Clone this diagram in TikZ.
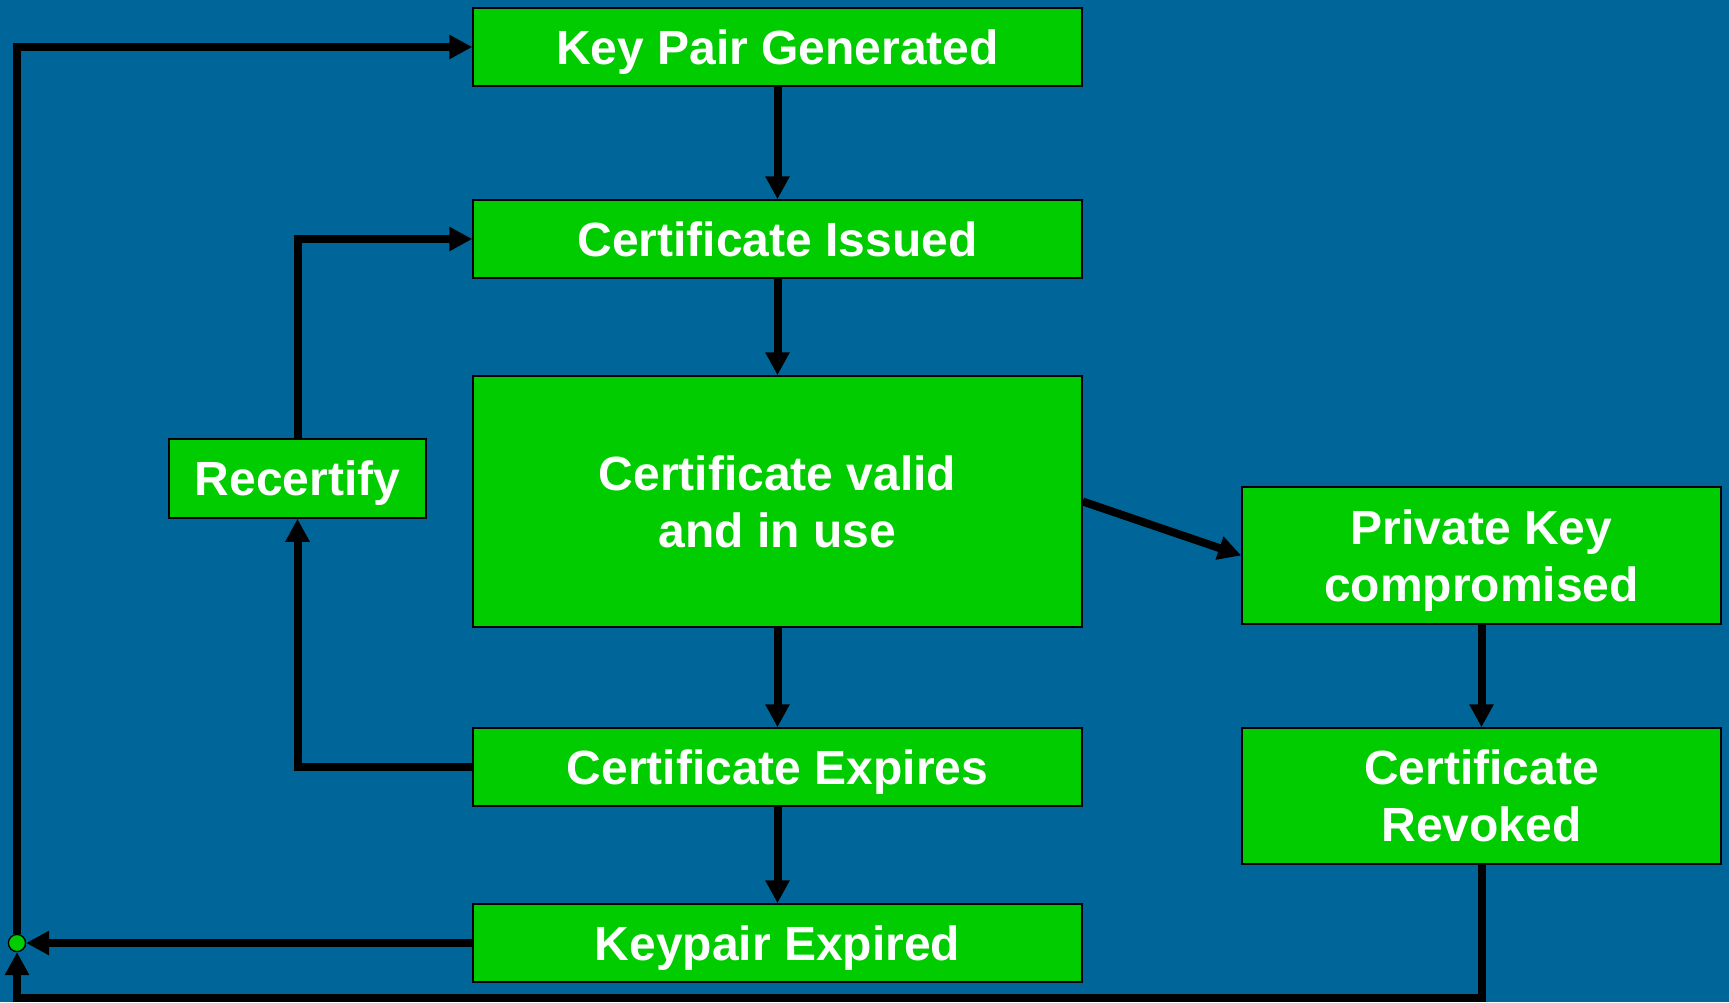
\documentclass[tikz,border=0pt]{standalone}
\usepackage{fontspec}
\setmainfont{Liberation Sans}
\usetikzlibrary{arrows.meta}
\definecolor{bg}{RGB}{0,102,153}
\definecolor{boxgreen}{RGB}{0,204,0}
\tikzset{
  box/.style={draw=black, line width=1.5pt, fill=boxgreen, text=white,
    font=\bfseries\fontsize{48}{57}\selectfont, align=center, inner sep=0pt,
    text depth=0pt},
  conn/.style={line width=8pt, draw=black, -{Triangle[length=23pt,width=23pt]}},
  dotstyle/.style={circle, draw=black, line width=1.2pt, fill=boxgreen, minimum size=17pt, inner sep=0pt},
}
\begin{document}
\begin{tikzpicture}[x=1pt,y=-1pt]
\fill[bg] (0,0) rectangle (1729,1002);
\useasboundingbox (0,0) rectangle (1729,1002);

\node[box, minimum width=609pt, minimum height=78pt] (kp) at (777.5,47) {Key Pair Generated};
\node[box, minimum width=609pt, minimum height=78pt] (ci) at (777.5,239) {Certificate Issued};
\node[box, minimum width=609pt, minimum height=251pt] (cv) at (777.5,501.5) {Certificate valid\\and in use};
\node[box, minimum width=609pt, minimum height=78pt] (ce) at (777.5,767) {Certificate Expires};
\node[box, minimum width=609pt, minimum height=78pt] (ke) at (777.5,943) {Keypair Expired};
\node[box, minimum width=257pt, minimum height=79pt] (rc) at (297.5,478.5) {Recertify};
\node[box, minimum width=479pt, minimum height=137pt] (pk) at (1481.5,555.5) {Private Key\\compromised};
\node[box, minimum width=479pt, minimum height=136pt] (cr) at (1481.5,796) {Certificate\\Revoked};

\node[dotstyle] (dot) at (17,943) {};
\coordinate (bl) at (1481.5,998);

\draw[conn] (kp.south) -- (ci.north);
\draw[conn] (ci.south) -- (cv.north);
\draw[conn] (cv.south) -- (ce.north);
\draw[conn] (ce.south) -- (ke.north);
\draw[conn] (cv.east) -- (pk.west);
\draw[conn] (pk.south) -- (cr.north);
\draw[conn] (ce.west) -| (rc.south);
\draw[conn] (rc.north) |- (ci.west);
\draw[conn] (ke.west) -- (dot.east);
\draw[conn] (cr.south) -- (bl) -| (dot.south);
\draw[conn] (dot.north) |- (kp.west);

\node[dotstyle] at (dot) {};
\end{tikzpicture}
\end{document}
